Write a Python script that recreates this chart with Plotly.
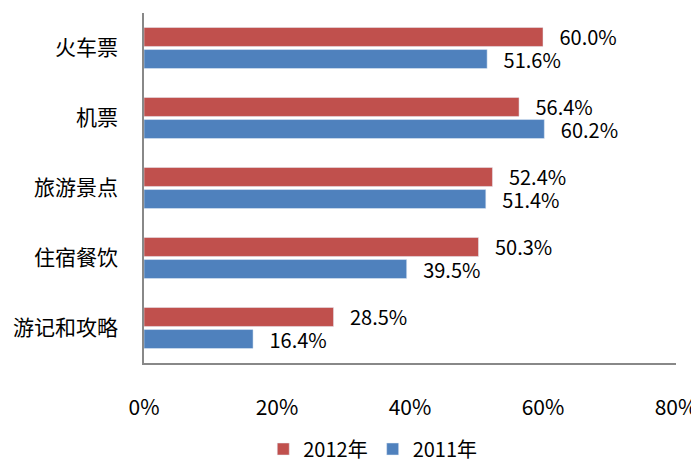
import plotly.graph_objects as go

categorias = ["火车票", "机票", "旅游景点", "住宿餐饮", "游记和攻略"]
valores_2012 = [60.0, 56.4, 52.4, 50.3, 28.5]
valores_2011 = [51.6, 60.2, 51.4, 39.5, 16.4]
ticks_x = [0, 20, 40, 60, 80]
ticks_texto = ["0%", "20%", "40%", "60%", "80%"]

FONTE = "Noto Sans CJK SC, Noto Sans, sans-serif"
ESPACO = "\u00a0\u00a0\u00a0"

fig = go.Figure()

fig.add_trace(
    go.Bar(
        y=categorias,
        x=valores_2012,
        orientation="h",
        name="2012年",
        marker=dict(color="#C0504D"),
        text=[f"{ESPACO}{v:.1f}%" for v in valores_2012],
        textposition="outside",
        constraintext="none",
        textfont=dict(size=20, color="#000000", family=FONTE),
        cliponaxis=False,
    )
)
fig.add_trace(
    go.Bar(
        y=categorias,
        x=valores_2011,
        orientation="h",
        name="2011年",
        marker=dict(color="#4F81BD"),
        text=[f"{ESPACO}{v:.1f}%" for v in valores_2011],
        textposition="outside",
        constraintext="none",
        textfont=dict(size=20, color="#000000", family=FONTE),
        cliponaxis=False,
    )
)

# a página tem 8px de margem no body, por isso a figura é menor
fig.update_layout(
    width=691,
    height=454,
    margin=dict(l=136, r=23, t=5, b=99, autoexpand=False),
    paper_bgcolor="white",
    plot_bgcolor="white",
    barmode="group",
    bargap=0.37,
    bargroupgap=0.14,
    font=dict(family=FONTE, size=21, color="#000000"),
    showlegend=True,
    legend=dict(
        orientation="h",
        x=0.43,
        xanchor="center",
        y=-0.19,
        yanchor="top",
        font=dict(size=20),
        itemwidth=30,
        traceorder="normal",
    ),
)

fig.update_xaxes(
    range=[0, 80],
    tickvals=ticks_x,
    ticktext=ticks_texto,
    showgrid=False,
    zeroline=False,
    showline=True,
    linecolor="#888888",
    linewidth=1.5,
    ticks="",
    ticklabelstandoff=25,
    tickfont=dict(size=21),
    automargin=False,
)
fig.update_yaxes(
    autorange="reversed",
    showgrid=False,
    showline=True,
    linecolor="#888888",
    linewidth=1.5,
    ticks="",
    ticklabelstandoff=20,
    tickfont=dict(size=21),
    automargin=False,
)

fig.write_html("out.html")
